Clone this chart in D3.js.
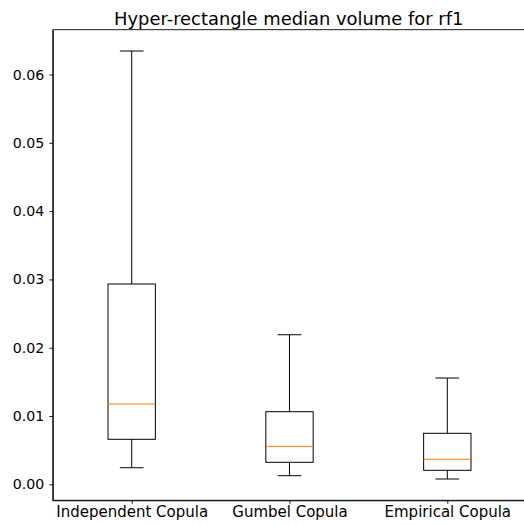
<!DOCTYPE html>
<html lang="en">
<head>
<meta charset="UTF-8">
<title>Hyper-rectangle median volume</title>
<script src="https://d3js.org/d3.v7.min.js"></script>
<style>
    body {
        margin: 0;
        background: #ffffff;
        font-family: "DejaVu Sans", sans-serif;
    }
    .axis text {
        fill: #000;
        font-family: "DejaVu Sans", sans-serif;
    }
    .axis.y text { font-size: 14.2px; }
    .axis.x text { font-size: 15px; }
    .axis line, .axis path {
        stroke: #000;
        stroke-width: 0.9px;
    }
</style>
</head>
<body>
<svg width="524" height="525"></svg>
<script>
    // box stats
    let categories = ["Independent Copula", "Gumbel Copula", "Empirical Copula"];
    let whiskerLow = [0.00243, 0.00126, 0.00078];
    let q1 = [0.00659, 0.00322, 0.00205];
    let medians = [0.01176, 0.00556, 0.00366];
    let q3 = [0.02933, 0.01063, 0.00747];
    let whiskerHigh = [0.06344, 0.02190, 0.01556];
    let yTicks = [0.00, 0.01, 0.02, 0.03, 0.04, 0.05, 0.06];

    let boxes = categories.map((c, i) => ({
        name: c, pos: i + 1,
        lo: whiskerLow[i], q1: q1[i], med: medians[i], q3: q3[i], hi: whiskerHigh[i]
    }));

    let margin = { top: 29.7, left: 52.8 };
    let plotW = 473.4, plotH = 470.6;

    let svg = d3.select("svg");
    let g = svg.append("g")
        .attr("transform", `translate(${margin.left},${margin.top})`);

    let x = d3.scaleLinear().domain([0.5, 3.5]).range([0, plotW]);
    let y = d3.scaleLinear().domain([-0.00234, 0.06656]).range([plotH, 0]);

    let boxW = x(1.15) - x(0.85);
    let capW = boxW / 2;

    let bg = g.selectAll("g.box")
        .data(boxes)
        .enter().append("g")
        .attr("class", "box");

    // whiskers
    bg.append("line")
        .attr("x1", d => x(d.pos)).attr("x2", d => x(d.pos))
        .attr("y1", d => y(d.q3)).attr("y2", d => y(d.hi))
        .attr("stroke", "#000").attr("stroke-width", 1);
    bg.append("line")
        .attr("x1", d => x(d.pos)).attr("x2", d => x(d.pos))
        .attr("y1", d => y(d.q1)).attr("y2", d => y(d.lo))
        .attr("stroke", "#000").attr("stroke-width", 1);

    // caps
    bg.append("line")
        .attr("x1", d => x(d.pos) - capW / 2).attr("x2", d => x(d.pos) + capW / 2)
        .attr("y1", d => y(d.hi)).attr("y2", d => y(d.hi))
        .attr("stroke", "#000").attr("stroke-width", 1);
    bg.append("line")
        .attr("x1", d => x(d.pos) - capW / 2).attr("x2", d => x(d.pos) + capW / 2)
        .attr("y1", d => y(d.lo)).attr("y2", d => y(d.lo))
        .attr("stroke", "#000").attr("stroke-width", 1);

    // box
    bg.append("rect")
        .attr("x", d => x(d.pos) - boxW / 2)
        .attr("y", d => y(d.q3))
        .attr("width", boxW)
        .attr("height", d => y(d.q1) - y(d.q3))
        .attr("fill", "none")
        .attr("stroke", "#000").attr("stroke-width", 1);

    // median
    bg.append("line")
        .attr("x1", d => x(d.pos) - boxW / 2).attr("x2", d => x(d.pos) + boxW / 2)
        .attr("y1", d => y(d.med)).attr("y2", d => y(d.med))
        .attr("stroke", "#ff7f0e").attr("stroke-width", 1);

    // axes
    g.append("g")
        .attr("class", "axis x")
        .attr("transform", `translate(0,${plotH})`)
        .call(d3.axisBottom(x).tickValues([1, 2, 3])
            .tickFormat((d, i) => categories[i])
            .tickSizeInner(3.5).tickSizeOuter(0).tickPadding(3));

    g.append("g")
        .attr("class", "axis y")
        .call(d3.axisLeft(y).tickValues(yTicks)
            .tickFormat(d3.format(".2f"))
            .tickSizeInner(3.5).tickSizeOuter(0).tickPadding(5));

    // frame
    g.append("rect")
        .attr("width", plotW).attr("height", plotH)
        .attr("fill", "none")
        .attr("stroke", "#000").attr("stroke-width", 0.9);

    svg.append("text")
        .attr("x", margin.left + plotW / 2 - 0.8)
        .attr("y", 25)
        .attr("text-anchor", "middle")
        .attr("font-size", "17.9px")
        .attr("fill", "#000")
        .text("Hyper-rectangle median volume for rf1");
</script>
</body>
</html>
